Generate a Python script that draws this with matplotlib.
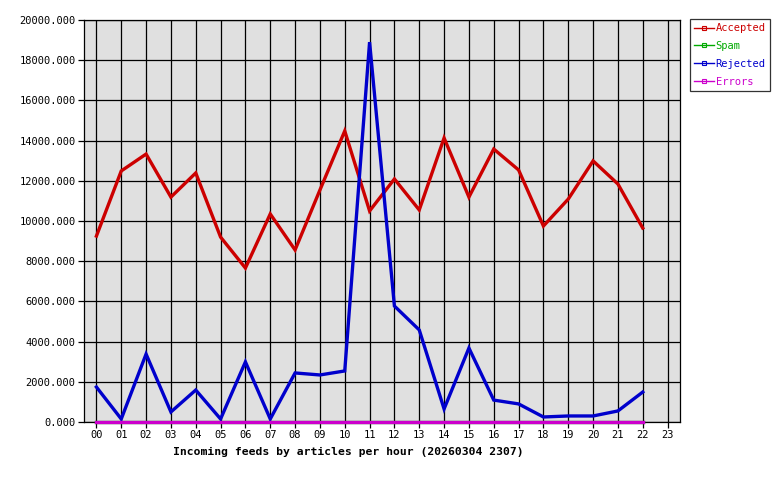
import matplotlib
matplotlib.use("Agg")
import matplotlib.pyplot as plt
from matplotlib.lines import Line2D

# hourly article counts
hours = list(range(23))
hour_labels = ["%02d" % h for h in range(24)]
accepted = [9250, 12490, 13330, 11190, 12390, 9200, 7660, 10350, 8560, 11540,
            14480, 10500, 12090, 10550, 14130, 11190, 13580, 12540, 9750, 11090,
            12990, 11840, 9650]
rejected = [1740, 150, 3380, 500, 1590, 150, 2990, 150, 2440, 2340,
            2540, 18900, 5770, 4580, 650, 3680, 1090, 900, 250, 300,
            300, 550, 1490]
spam = [0] * 23
errors = [0] * 23

series = [("Accepted", accepted, "#cc0000"),
          ("Spam", spam, "#00aa00"),
          ("Rejected", rejected, "#0000cc"),
          ("Errors", errors, "#cc00cc")]

mono = "DejaVu Sans Mono"

fig = plt.figure(figsize=(7.8, 4.8), dpi=100)
ax = fig.add_axes([84 / 780, 1 - 422 / 480, 596 / 780, 402 / 480])
ax.set_facecolor("#e0e0e0")

for name, vals, col in series:
    ax.plot(hours, vals, color=col, lw=2.4, solid_joinstyle="miter",
            zorder=3, clip_on=False)

ax.set_xlim(-0.5, 23.5)
ax.set_ylim(0, 20000)
ax.set_xticks(range(24))
ax.set_xticklabels(hour_labels, fontfamily=mono, fontsize=7.5)
ax.set_yticks(range(0, 20001, 2000))
ax.set_yticklabels(["%d.000" % v for v in range(0, 20001, 2000)],
                   fontfamily=mono, fontsize=7.5)
ax.grid(True, color="black", lw=0.9)
ax.set_axisbelow(True)
ax.tick_params(length=4, width=0.9, color="black", pad=2)
for s in ax.spines.values():
    s.set_color("black")
    s.set_linewidth(0.9)
    s.set_zorder(2)

fig.text(348 / 780, 1 - 452 / 480,
         "Incoming feeds by articles per hour (20260304 2307)",
         ha="center", va="center", fontfamily=mono, fontsize=8.2,
         fontweight="bold")

handles = [Line2D([0], [0], color=col, lw=1, marker="s", markersize=2.5,
                  markerfacecolor="none", markeredgewidth=0.8)
           for name, vals, col in series]
leg = fig.legend(handles, [s[0] for s in series],
                 loc="upper left", bbox_to_anchor=(690 / 780, 1 - 19 / 480),
                 prop={"family": mono, "size": 7.5}, frameon=True,
                 fancybox=False, borderpad=0.4, handlelength=1.9,
                 handletextpad=0.15, labelspacing=0.75, borderaxespad=0)
leg.get_frame().set_edgecolor("black")
leg.get_frame().set_linewidth(0.9)
for t, (name, vals, col) in zip(leg.get_texts(), series):
    t.set_color(col)

fig.savefig("out.png", dpi=100)
